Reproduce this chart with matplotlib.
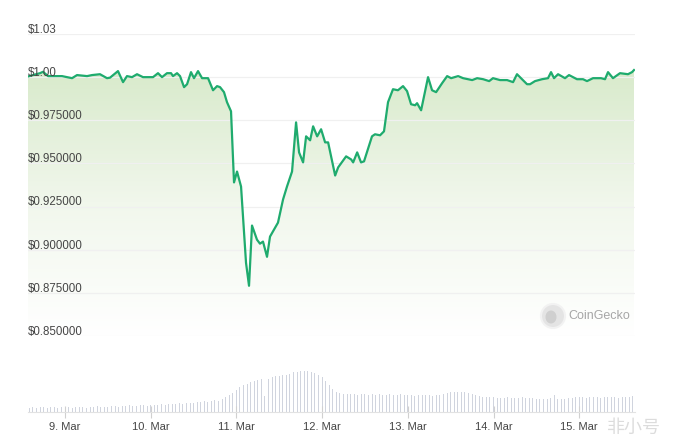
import numpy as np
import matplotlib
matplotlib.use("Agg")
import matplotlib.pyplot as plt
from matplotlib.colors import LinearSegmentedColormap
from matplotlib.patches import Ellipse

# Precio (dia del mes de marzo, en fraccion de dia)
dias = [8.568, 8.627, 8.708, 8.743, 8.802, 8.860, 8.965, 9.082, 9.140, 9.257,
        9.315, 9.408, 9.490, 9.525, 9.618, 9.677, 9.723, 9.782, 9.840, 9.910,
        10.027, 10.085, 10.132, 10.190, 10.237, 10.260, 10.307, 10.342, 10.389, 10.424,
        10.470, 10.505, 10.552, 10.599, 10.669, 10.727, 10.774, 10.809, 10.855, 10.890,
        10.937, 10.972, 11.007, 11.054, 11.112, 11.147, 11.182, 11.240, 11.275, 11.310,
        11.357, 11.392, 11.485, 11.544, 11.590, 11.649, 11.696, 11.731, 11.778, 11.813,
        11.860, 11.895, 11.942, 11.988, 12.035, 12.070, 12.117, 12.152, 12.187, 12.280,
        12.339, 12.362, 12.409, 12.454, 12.489, 12.582, 12.617, 12.676, 12.722, 12.769,
        12.827, 12.885, 12.944, 12.991, 13.038, 13.085, 13.108, 13.155, 13.236, 13.283,
        13.330, 13.400, 13.459, 13.505, 13.587, 13.645, 13.751, 13.809, 13.879, 13.949,
        13.994, 14.076, 14.158, 14.228, 14.274, 14.321, 14.391, 14.426, 14.484, 14.566,
        14.636, 14.671, 14.706, 14.753, 14.834, 14.881, 14.974, 15.044, 15.091, 15.161,
        15.254, 15.301, 15.336, 15.394, 15.476, 15.569, 15.616, 15.639]
precios = [1.0004, 1.0012, 1.0023, 1.0031, 1.0006, 1.0006, 1.0006, 0.9994, 1.0012, 1.0006,
           1.0012, 1.0017, 0.9994, 0.9997, 1.0035, 0.9971, 1.0006, 1.0000, 1.0017, 1.0000,
           1.0000, 1.0023, 1.0000, 1.0023, 1.0023, 1.0006, 1.0023, 1.0006, 0.9942, 0.9959,
           1.0029, 0.9994, 1.0035, 0.9994, 0.9994, 0.9924, 0.9948, 0.9942, 0.9913, 0.9855,
           0.9802, 0.9390, 0.9453, 0.9366, 0.8924, 0.8791, 0.9140, 0.9058, 0.9035, 0.9047,
           0.8959, 0.9076, 0.9157, 0.9291, 0.9366, 0.9453, 0.9738, 0.9564, 0.9506, 0.9657,
           0.9634, 0.9715, 0.9657, 0.9698, 0.9622, 0.9622, 0.9512, 0.9430, 0.9477, 0.9541,
           0.9523, 0.9506, 0.9564, 0.9506, 0.9512, 0.9657, 0.9669, 0.9663, 0.9686, 0.9855,
           0.9930, 0.9924, 0.9948, 0.9919, 0.9843, 0.9837, 0.9849, 0.9808, 1.0000, 0.9924,
           0.9913, 0.9965, 1.0006, 0.9994, 1.0006, 0.9994, 0.9983, 0.9994, 0.9988, 0.9977,
           0.9994, 0.9983, 0.9983, 0.9971, 1.0017, 0.9994, 0.9959, 0.9959, 0.9977, 0.9988,
           0.9994, 1.0029, 0.9994, 1.0017, 0.9994, 1.0012, 0.9988, 0.9988, 0.9977, 0.9994,
           0.9994, 0.9988, 1.0029, 0.9994, 1.0023, 1.0017, 1.0029, 1.0041]

# Volumen por hora (unidades relativas), desde el 8 de marzo 14:00
volumen = [4, 5, 4, 5, 5, 4, 5, 5, 4, 5,
           5, 5, 4, 5, 5, 5, 4, 5, 5, 6, 5, 5, 5, 6, 6, 5, 6, 6, 7, 6, 6, 7, 7, 6,
           7, 7, 7, 8, 7, 8, 8, 8, 9, 8, 9, 9, 9, 10, 10, 11, 10, 11, 12, 11, 13, 15, 17, 19,
           22, 25, 27, 28, 30, 31, 32, 33, 16, 33, 35, 36, 36, 37, 37, 38, 40, 40, 41, 41, 41, 40, 39, 37,
           35, 31, 27, 23, 20, 19, 18, 18, 18, 18, 17, 18, 18, 17, 18, 17, 18, 17, 17, 18, 17, 17, 18, 17,
           17, 17, 16, 17, 17, 17, 17, 16, 17, 17, 18, 19, 20, 20, 20, 20, 20, 19, 18, 17, 16, 15, 15, 15,
           15, 14, 14, 14, 15, 14, 14, 14, 15, 14, 14, 14, 13, 13, 13, 13, 14, 17, 13, 13, 13, 14, 14, 15,
           15, 15, 14, 15, 15, 15, 14, 15, 15, 15, 15, 14, 15, 15, 15, 16]
inicio_vol = 8 + 14 / 24

y_ticks = [0.85, 0.875, 0.9, 0.925, 0.95, 0.975, 1.0, 1.025]
y_labels = ["$0.850000", "$0.875000", "$0.900000", "$0.925000", "$0.950000",
            "$0.975000", "$1.00", "$1.03"]
x_ticks = [9, 10, 11, 12, 13, 14, 15]
x_labels = ["9. Mar", "10. Mar", "11. Mar", "12. Mar", "13. Mar", "14. Mar", "15. Mar"]

verde = "#1fab6e"
gris_txt = "#454545"
plt.rcParams["font.family"] = ["Liberation Sans", "DejaVu Sans"]

W, H = 673, 447
fig = plt.figure(figsize=(W / 100, H / 100), dpi=100)
x0, x1 = 28, 635
xlim = (8.568, 8.568 + (x1 - x0) / 85.7)

# Grafico de precio
ax = fig.add_axes([x0 / W, 1 - 336 / H, (x1 - x0) / W, (336 - 34) / H])
ax.set_xlim(xlim)
ax.set_ylim(0.85, 1.025)
for v in y_ticks:
    ax.axhline(v, color="#f0f0f0", lw=0.9, zorder=2)
for v, lab in zip(y_ticks, y_labels):
    ax.text(0, v - 0.0011, lab, transform=ax.get_yaxis_transform(), ha="left", va="bottom",
            fontsize=8.3, color=gris_txt, zorder=5)

relleno = ax.fill_between(dias, precios, 0.85, color="none", lw=0)
cmap = LinearSegmentedColormap.from_list("verdes", ["#ffffff", "#f1f7ec", "#d8eacb"])
grad = np.linspace(0, 1, 256).reshape(-1, 1)
im = ax.imshow(grad, extent=[xlim[0], xlim[1], 0.85, 1.005], origin="lower", aspect="auto",
               cmap=cmap, zorder=1)
im.set_clip_path(relleno.get_paths()[0], transform=ax.transData)
ax.plot(dias, precios, color=verde, lw=1.6, zorder=3, solid_joinstyle="round")
ax.set_xlim(xlim)
ax.set_ylim(0.85, 1.025)
ax.set_xticks([])
ax.set_yticks([])
for s in ax.spines.values():
    s.set_visible(False)

# Marca de agua CoinGecko
fig.add_artist(Ellipse((553 / W, 1 - 316 / H), 24 / W, 24 / H, transform=fig.transFigure,
                       facecolor="#e4e4e4", edgecolor="#f2f2f2", lw=1.5))
fig.add_artist(Ellipse((551 / W, 1 - 317 / H), 11 / W, 13 / H, transform=fig.transFigure,
                       facecolor="#cfcfcf", edgecolor="none"))
fig.text(568 / W, 1 - 316 / H, "CoinGecko", fontsize=9, color="#a6a6a6", va="center", ha="left")

# Volumen
axv = fig.add_axes([x0 / W, 1 - 412 / H, (x1 - x0) / W, 50 / H])
horas = inicio_vol + np.arange(len(volumen)) / 24
axv.bar(horas, volumen, width=0.28 / 24, color="#d0d4de", lw=0)
axv.set_xlim(xlim)
axv.set_ylim(0, 50)
axv.set_yticks([])
axv.set_xticks(x_ticks)
axv.set_xticklabels(x_labels, fontsize=8, color=gris_txt)
axv.tick_params(axis="x", direction="inout", length=8, color="#d0d0d0", width=0.8, pad=3)
for s in ["top", "left", "right"]:
    axv.spines[s].set_visible(False)
axv.spines["bottom"].set_color("#e2e2e2")
axv.spines["bottom"].set_linewidth(0.8)

fig.text(607 / W, 1 - 428 / H, "非小号", fontsize=13, color="#d9d9d9", va="center", ha="left",
         family=["Noto Sans CJK SC", "DejaVu Sans"], alpha=0.9)

fig.savefig("out.png", dpi=100)
